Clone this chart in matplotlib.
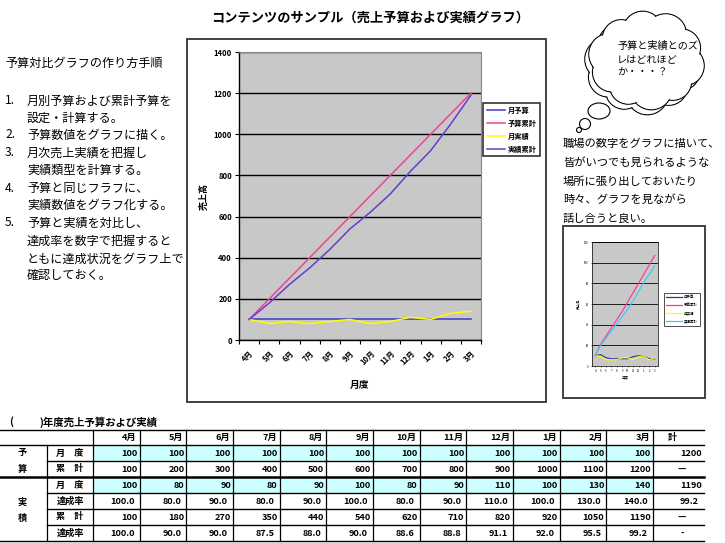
import matplotlib
matplotlib.use('Agg')
import matplotlib.pyplot as plt
from matplotlib.patches import Rectangle, Circle, Ellipse
from matplotlib.lines import Line2D
import numpy as np

plt.rcParams['font.family'] = ['Noto Sans CJK JP', 'DejaVu Sans']

# ---- data ----
months = ['4月', '5月', '6月', '7月', '8月', '9月', '10月', '11月', '12月', '1月', '2月', '3月']
budget_month = [100, 100, 100, 100, 100, 100, 100, 100, 100, 100, 100, 100]
budget_cum = [100, 200, 300, 400, 500, 600, 700, 800, 900, 1000, 1100, 1200]
actual_month = [100, 80, 90, 80, 90, 100, 80, 90, 110, 100, 130, 140]
actual_month_rate = [100.0, 80.0, 90.0, 80.0, 90.0, 100.0, 80.0, 90.0, 110.0, 100.0, 130.0, 140.0]
actual_cum = [100, 180, 270, 350, 440, 540, 620, 710, 820, 920, 1050, 1190]
actual_cum_rate = [100.0, 90.0, 90.0, 87.5, 88.0, 90.0, 88.6, 88.8, 91.1, 92.0, 95.5, 99.2]
budget_total = 1200
actual_total = 1190
actual_total_rate = 99.2

series_names = ['月予算', '予算累計', '月実績', '実績累計']

# small thumbnail chart
thumb_budget = [10, 11, 8, 7, 7, 7, 7, 9, 10, 9, 7, 7]
thumb_budget_cum = [10, 21, 29, 37, 45, 53, 62, 71, 80, 89, 98, 107]
thumb_actual = [10, 9, 6, 6, 6, 8, 8, 6, 9, 9, 6, 8]
thumb_actual_cum = [10, 20, 27, 34, 41, 48, 55, 63, 72, 81, 89, 97]

left_lines = [
    (5, 63, '予算対比グラフの作り方手順'),
    (5, 101, '1.'), (27, 101, '月別予算および累計予算を'),
    (27, 118, '設定・計算する。'),
    (5, 135, '2.'), (27, 135, '予算数値をグラフに描く。'),
    (5, 153, '3.'), (27, 153, '月次売上実績を把握し'),
    (27, 170, '実績類型を計算する。'),
    (5, 188, '4.'), (27, 188, '予算と同じフラフに、'),
    (27, 205, '実績数値をグラフ化する。'),
    (5, 223, '5.'), (27, 223, '予算と実績を対比し、'),
    (27, 241, '達成率を数字で把握すると'),
    (27, 259, 'ともに達成状況をグラフ上で'),
    (27, 276, '確認しておく。'),
]
right_lines = ['職場の数字をグラフに描いて、', '皆がいつでも見られるような',
               '場所に張り出しておいたり', '時々、グラフを見ながら', '話し合うと良い。']

W, H = 725, 543
fig = plt.figure(figsize=(W / 100, H / 100), dpi=100)
fig.patch.set_facecolor('white')

# overlay in pixel coordinates for the slide decoration
ov = fig.add_axes([0, 0, 1, 1])
ov.set_xlim(0, W)
ov.set_ylim(H, 0)
ov.axis('off')

ov.text(370, 18, 'コンテンツのサンプル（売上予算および実績グラフ）', ha='center', va='center',
        fontsize=9.5, fontweight='bold')

for x, y, s in left_lines:
    ov.text(x, y, s, ha='left', va='center', fontsize=8.7)

for i, s in enumerate(right_lines):
    ov.text(563, 144 + i * 18.6, s, ha='left', va='center', fontsize=8.1)

# chart frames
ov.add_patch(Rectangle((187, 39), 359, 363, fill=False, ec='#333333', lw=1.3))
ov.add_patch(Rectangle((563, 226), 142, 172, fill=False, ec='#333333', lw=1.3))


# thought bubble
def cloud(dx, dy, z):
    cx, cy, a, b = 647 + dx, 60 + dy, 38, 29
    angs = np.linspace(0, 2 * np.pi, 10, endpoint=False) + 0.2
    radii = [20, 19, 21, 19, 20, 21, 19, 20, 21, 19]
    for t, r in zip(angs, radii):
        x, y = cx + a * np.cos(t), cy + b * np.sin(t)
        ov.add_patch(Circle((x, y), r, fc='white', ec='black', lw=0.8, zorder=z))
        ov.add_patch(Circle((x, y), r - 0.9, fc='white', ec='none', zorder=z + 0.1))
    ov.add_patch(Ellipse((cx, cy), 2 * a + 8, 2 * b + 8, fc='white', ec='none', zorder=z + 0.1))


cloud(-4, 5, 1)
cloud(0, 0, 2)
for (x, y, w, h) in [(599, 111, 22, 16), (585, 124, 11, 11), (579, 130, 5, 5)]:
    ov.add_patch(Ellipse((x, y), w, h, fc='white', ec='black', lw=0.8, zorder=3))
ov.text(617, 41, '予算と実績とのズ\nレはどれほど\nか・・・？', ha='left', va='top',
        fontsize=7.3, linespacing=1.35, zorder=4)

# ---- table ----
ov.text(9, 422, '(', ha='left', va='center', fontsize=7.5, fontweight='bold')
ov.text(40, 422, ')年度売上予算および実績', ha='left', va='center', fontsize=7.5, fontweight='bold')

col_x = [0, 47] + list(np.linspace(93, 653, 13)) + [704]
row_y = [430, 445, 461, 477, 493, 509, 525, 541]
tfs = 6.6
for r in (0, 2):
    ov.add_patch(Rectangle((col_x[2], row_y[r + 1]), col_x[14] - col_x[2], row_y[r + 2] - row_y[r + 1],
                           fc='#ccffff', ec='none', zorder=1))
for k in range(len(row_y)):
    y = row_y[k]
    lw = 1.8 if k == 3 else 1.0
    x0 = 0 if k in (0, 1, 3, 7) else 47
    ov.plot([x0, 704], [y, y], color='black', lw=lw, zorder=2)
for k, x in enumerate(col_x[1:15]):
    y0 = row_y[1] if k == 0 else row_y[0]
    ov.plot([x, x], [y0, row_y[-1]], color='black', lw=0.9, zorder=2)

for i, m in enumerate(months):
    ov.text(col_x[i + 3] - 3, (row_y[0] + row_y[1]) / 2, m, ha='right', va='center',
            fontsize=tfs, fontweight='bold', zorder=3)
ov.text(668, (row_y[0] + row_y[1]) / 2, '計', ha='left', va='center', fontsize=tfs,
        fontweight='bold', zorder=3)

row_labels = ['月　度', '累　計', '月　度', '達成率', '累　計', '達成率']
rows = [
    ([str(v) for v in budget_month], 2, str(budget_total)),
    ([str(v) for v in budget_cum], 2, '—'),
    ([str(v) for v in actual_month], 2, str(actual_total)),
    (['%.1f' % v for v in actual_month_rate], 5, '%.1f' % actual_total_rate),
    ([str(v) for v in actual_cum], 2, '—'),
    (['%.1f' % v for v in actual_cum_rate], 5, '-'),
]
for r, (vals, pad, tot) in enumerate(rows):
    yc = (row_y[r + 1] + row_y[r + 2]) / 2
    ov.text(70, yc, row_labels[r], ha='center', va='center', fontsize=tfs, fontweight='bold', zorder=3)
    for i, v in enumerate(vals):
        ov.text(col_x[i + 3] - pad, yc, v, ha='right', va='center', fontsize=tfs,
                fontweight='bold', zorder=3)
    if tot in ('—', '-'):
        ov.text(682, yc, tot, ha='center', va='center', fontsize=tfs, fontweight='bold', zorder=3)
    else:
        ov.text(702 - (pad - 2), yc, tot, ha='right', va='center', fontsize=tfs,
                fontweight='bold', zorder=3)
for ch, y in [('予', 453), ('算', 469), ('実', 502), ('積', 518)]:
    ov.text(22, y, ch, ha='center', va='center', fontsize=tfs, fontweight='bold', zorder=3)

# ---- main chart ----
ax = fig.add_axes([239 / W, 1 - 340 / H, 242 / W, 288 / H])
ax.set_facecolor('#c8c8c8')
x = np.arange(len(months))
colors = ['#3c3cc8', '#ee4499', '#ffff00', '#6a3ad0']
for vals, c in zip([budget_month, budget_cum, actual_month, actual_cum], colors):
    ax.plot(x, vals, color=c, lw=1.1)
ax.set_xlim(-0.5, len(months) - 0.5)
ax.set_ylim(0, 1400)
ax.set_yticks(np.arange(0, 1401, 200))
ax.yaxis.grid(True, color='black', lw=1)
ax.set_axisbelow(True)
ax.set_xticks(np.arange(-0.5, len(months), 1))
ax.set_xticklabels([])
ax.set_xticks(x, minor=True)
ax.set_xticklabels(months, minor=True, rotation=45, ha='right', rotation_mode='anchor',
                   fontsize=5.5, fontweight='bold')
ax.tick_params(axis='x', which='minor', length=0, pad=6)
ax.tick_params(axis='x', which='major', length=3, width=0.8, direction='out')
ax.tick_params(axis='y', length=3, width=0.8, labelsize=5.5, pad=2)
for lab in ax.get_yticklabels():
    lab.set_fontweight('bold')
for s in ('top', 'right'):
    ax.spines[s].set_color('#888888')
    ax.spines[s].set_linewidth(0.8)
for s in ('left', 'bottom'):
    ax.spines[s].set_linewidth(1.0)
ax.set_ylabel('売上高', fontsize=6.5, fontweight='bold', labelpad=4)
ax.set_xlabel('月度', fontsize=7, fontweight='bold', labelpad=10)
handles = [Line2D([], [], color=c, lw=1.1) for c in colors]
leg = ax.legend(handles, series_names, loc='upper left', bbox_to_anchor=(483 / W, 1 - 103 / H),
                bbox_transform=fig.transFigure, frameon=True, fancybox=False, edgecolor='black',
                prop={'size': 5.2, 'weight': 'bold'}, handlelength=2.6, handletextpad=0.3,
                labelspacing=0.8, borderpad=0.5, borderaxespad=0)
leg.get_frame().set_linewidth(1.2)

# ---- thumbnail chart ----
sx = fig.add_axes([592 / W, 1 - 366 / H, 66 / W, 124 / H])
sx.set_facecolor('#c8c8c8')
tcolors = ['#2a3aa0', '#ff3399', '#ffff00', '#33ccff']
for vals, c in zip([thumb_budget, thumb_budget_cum, thumb_actual, thumb_actual_cum], tcolors):
    sx.plot(x, vals, color=c, lw=0.8)
sx.set_xlim(-0.6, len(months) - 0.4)
sx.set_ylim(0, 120)
sx.set_yticks(np.arange(0, 121, 20))
sx.yaxis.grid(True, color='black', lw=0.6)
sx.set_axisbelow(True)
sx.set_xticks(x)
sx.set_xticklabels([m[:-1] for m in months], fontsize=2)
sx.tick_params(length=1, width=0.4, labelsize=2, pad=1.5)
for s in sx.spines.values():
    s.set_linewidth(0.5)
sx.set_ylabel('売上高', fontsize=2.5, labelpad=2)
sx.set_xlabel('月度', fontsize=2.5, labelpad=1)
th = [Line2D([], [], color=c, lw=0.9) for c in tcolors]
sl = sx.legend(th, series_names, loc='upper left', bbox_to_anchor=(664 / W, 1 - 293 / H),
               bbox_transform=fig.transFigure, frameon=True, fancybox=False, edgecolor='black',
               prop={'size': 2.5}, handlelength=4.5, handletextpad=0.5, labelspacing=1.2,
               borderpad=0.6, borderaxespad=0)
sl.get_frame().set_linewidth(0.6)

fig.savefig('out.png', dpi=100)
